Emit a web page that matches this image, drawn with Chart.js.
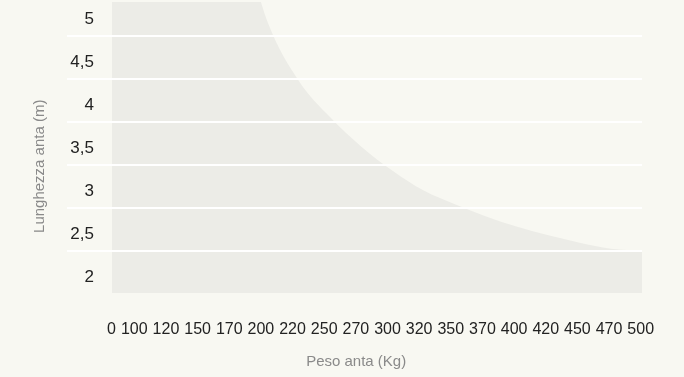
<!DOCTYPE html>
<html lang="it">
<head>
<meta charset="utf-8">
<title>Peso anta / Lunghezza anta</title>
<script src="https://cdn.jsdelivr.net/npm/chart.js@4.4.1/dist/chart.umd.min.js"></script>
<style>
    html, body { margin: 0; padding: 0; background: #f8f8f2; }
    #chartBox { width: 684px; height: 377px; }
</style>
</head>
<body>
<div id="chartBox"><canvas id="pesoChart" width="684" height="377"></canvas></div>
<script>
// categorie sull'asse x (Kg)
const pesi = [0, 100, 120, 150, 170, 200, 220, 250, 270, 300, 320, 350, 370, 400, 420, 450, 470, 500];
// lunghezza massima (m) per ogni peso (oltre 5 m il valore esce dal riquadro)
const lunghezze = [7, 7, 7, 7, 6.1, 4.9, 4.22, 3.8, 3.46, 3.18, 2.95, 2.79, 2.65, 2.53, 2.43, 2.345, 2.275, 2.25];
const lunghezzaTicks = [2, 2.5, 3, 3.5, 4, 4.5, 5];

const FONT = "'Liberation Sans', Arial, sans-serif";
const FILL_COLOR = '#ececE7';
const TEXT_COLOR = '#222222';
const TITLE_COLOR = '#8a8a8a';

function formatDecimal(value) {
    return String(value).replace('.', ',');
}

const ctx = document.getElementById('pesoChart').getContext('2d');
new Chart(ctx, {
    type: 'line',
    data: {
        datasets: [{
            label: 'Lunghezza anta',
            data: pesi.map((_, i) => ({ x: i, y: lunghezze[i] })),
            xAxisID: 'x',
            fill: 'start',
            backgroundColor: FILL_COLOR,
            borderColor: 'transparent',
            borderWidth: 0,
            pointRadius: 0,
            cubicInterpolationMode: 'monotone'
        }]
    },
    options: {
        responsive: false,
        animation: false,
        layout: { padding: { top: 2, right: 42, bottom: 0, left: 0 } },
        plugins: {
            legend: { display: false },
            tooltip: { enabled: false }
        },
        scales: {
            // asse dei dati, nascosto
            x: {
                type: 'linear',
                display: false,
                min: 0,
                max: pesi.length - 1
            },
            // etichette dei pesi, allineate a destra
            xPeso: {
                type: 'linear',
                position: 'bottom',
                min: -0.126,
                max: 16.62,
                afterBuildTicks: scale => { scale.ticks = pesi.map((_, i) => ({ value: i })); },
                afterFit: scale => { scale.height = 84; },
                grid: { display: false },
                border: { display: false },
                ticks: {
                    autoSkip: false,
                    maxRotation: 0,
                    minRotation: 0,
                    align: 'end',
                    padding: 19,
                    color: TEXT_COLOR,
                    font: { family: FONT, size: 16 },
                    callback: value => String(pesi[value])
                },
                title: {
                    display: true,
                    text: 'Peso anta (Kg)          ',
                    color: TITLE_COLOR,
                    font: { family: FONT, size: 15 },
                    padding: { top: 0, bottom: 6 }
                }
            },
            y: {
                type: 'linear',
                min: 1.76,
                max: 5.14,
                afterBuildTicks: scale => { scale.ticks = lunghezzaTicks.map(v => ({ value: v })); },
                afterFit: scale => { scale.width = 112; },
                grid: {
                    offset: true,
                    color: '#ffffff',
                    lineWidth: 2,
                    tickLength: 45,
                    z: 1
                },
                border: { display: false },
                ticks: {
                    padding: -27,
                    color: TEXT_COLOR,
                    font: { family: FONT, size: 17, lineHeight: '10px' },
                    callback: value => ['', formatDecimal(value)]
                },
                title: {
                    display: true,
                    text: 'Lunghezza anta (m)         ',
                    color: TITLE_COLOR,
                    font: { family: FONT, size: 15 },
                    padding: { top: 31, bottom: 0 }
                }
            }
        }
    }
});
</script>
</body>
</html>
